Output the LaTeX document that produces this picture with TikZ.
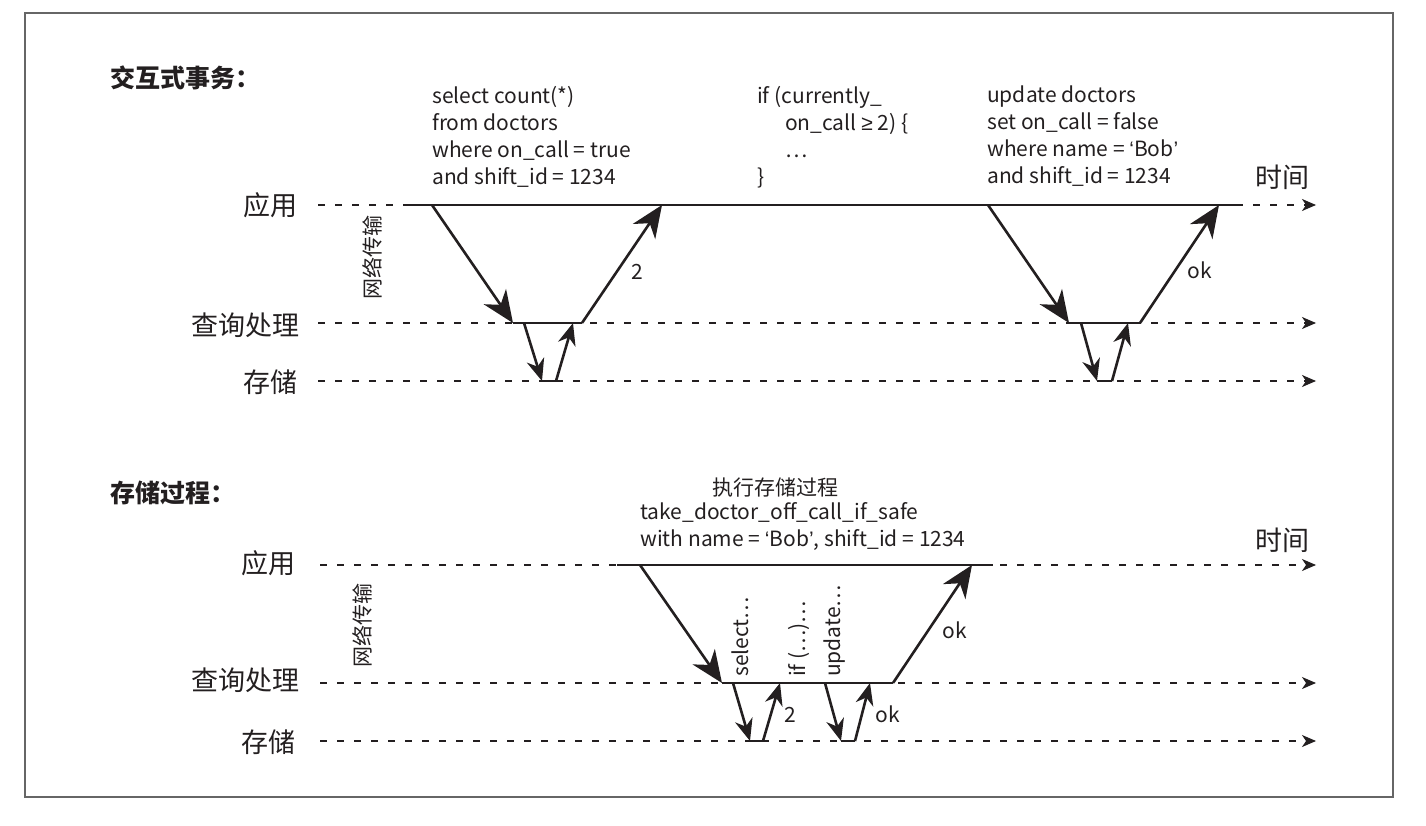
\documentclass[tikz,border=0pt]{standalone}
\usepackage{fontspec}
\setmainfont{Noto Sans CJK SC}
\newfontfamily\symfont{Liberation Sans}
\usetikzlibrary{arrows.meta}
\definecolor{ink}{HTML}{231F20}
\newcommand{\bobq}{{\symfont ‘}Bob{\symfont ’}}
\tikzset{
    lane/.style={ink, line width=1.3pt, dash pattern=on 7pt off 10pt, -{Stealth[length=14pt,width=12pt,inset=4pt]}},
    busy/.style={ink, line width=2.6pt},
    msg/.style={ink, line width=2.6pt, -{Stealth[length=32pt,width=27pt,inset=10pt]}},
    smallmsg/.style={ink, line width=2.6pt, -{Stealth[length=22pt,width=18pt,inset=7pt]}},
    rowlbl/.style={text=ink, anchor=east, inner sep=0pt, font=\fontsize{27}{27}\selectfont},
    heading/.style={text=ink, anchor=west, inner sep=0pt, font=\bfseries\fontsize{25}{25}\selectfont},
    code/.style={text=ink, anchor=north west, inner sep=0pt, align=left, font=\fontsize{21}{27}\selectfont},
    reply/.style={text=ink, inner sep=0pt, font=\fontsize{21}{21}\selectfont},
    net/.style={text=ink, rotate=90, inner sep=0pt, font=\fontsize{21}{21}\selectfont},
    callout/.style={text=ink, rotate=90, anchor=west, inner sep=0pt, font=\fontsize{21}{21}\selectfont},
}
\begin{document}
\begin{tikzpicture}[x=1pt,y=-1pt]
	\useasboundingbox (0,0) rectangle (1426,826);
	\draw[gray!80!black, line width=1.2pt] (25,13) rectangle (1393,797);
	%INTERACTIVE TRANSACTION
	\node[heading] (titleA) at (110,78) {交互式事务：};
	\node[rowlbl] (appA) at (298,205) {应用};
	\node[rowlbl] (qryA) at (300,325) {查询处理};
	\node[rowlbl] (stoA) at (298,382) {存储};
	\node[net] (netA) at (372,257) {网络传输};
	\node[rowlbl, anchor=center] (timeA) at (1282,177) {时间};
	%lanes
	\coordinate (appAs) at (318,205); \coordinate (appAe) at (1316,205);
	\coordinate (qryAs) at (318,323); \coordinate (qryAe) at (1316,323);
	\coordinate (stoAs) at (318,381); \coordinate (stoAe) at (1316,381);
	\draw[lane] (appAs) -- (appAe);
	\draw[lane] (qryAs) -- (qryAe);
	\draw[lane] (stoAs) -- (stoAe);
	%statements
	\node[code] (selA) at (432,86) {select count(*)\\from doctors\\where on\_call = true\\and shift\_id = 1234};
	\node[code] (ifA) at (757,86) {if (currently\_\\\hspace*{28pt}on\_call {\symfont ≥} 2) \{\\\hspace*{28pt}…\\\}};
	\node[code] (updA) at (987,86) {update doctors\\set on\_call = false\\where name = \bobq\\and shift\_id = 1234};
	%round trip 1
	\coordinate (a1) at (432,205); \coordinate (b1) at (513,323);
	\coordinate (c1) at (582,323); \coordinate (d1) at (662,205);
	\coordinate (e1) at (524,323); \coordinate (f1) at (542,381);
	\coordinate (g1) at (556,381); \coordinate (h1) at (573,323);
	%round trip 2
	\coordinate (a2) at (988,205); \coordinate (b2) at (1069,323);
	\coordinate (c2) at (1140,323); \coordinate (d2) at (1219,205);
	\coordinate (e2) at (1081,323); \coordinate (f2) at (1097,381);
	\coordinate (g2) at (1112,381); \coordinate (h2) at (1128,323);
	\coordinate (busyAs) at (408,205); \coordinate (busyAe) at (1240,205);
	\draw[busy] (busyAs) -- (busyAe);
	\draw[busy] (b1) -- (c1);
	\draw[busy] (f1) -- (g1);
	\draw[busy] (b2) -- (c2);
	\draw[busy] (f2) -- (g2);
	\draw[msg] (a1) -- (b1);
	\draw[msg] (c1) -- (d1);
	\draw[smallmsg] (e1) -- (f1);
	\draw[smallmsg] (g1) -- (h1);
	\draw[msg] (a2) -- (b2);
	\draw[msg] (c2) -- (d2);
	\draw[smallmsg] (e2) -- (f2);
	\draw[smallmsg] (g2) -- (h2);
	\node[reply] (twoA) at (637,272) {2};
	\node[reply] (okA) at (1200,270) {ok};
	%STORED PROCEDURE
	\node[heading] (titleB) at (110,493) {存储过程：};
	\node[rowlbl] (appB) at (296,563) {应用};
	\node[rowlbl] (qryB) at (300,680) {查询处理};
	\node[rowlbl] (stoB) at (296,742) {存储};
	\node[net] (netB) at (362,625) {网络传输};
	\node[rowlbl, anchor=center] (timeB) at (1282,540) {时间};
	\coordinate (appBs) at (320,565); \coordinate (appBe) at (1316,565);
	\coordinate (qryBs) at (320,683); \coordinate (qryBe) at (1316,683);
	\coordinate (stoBs) at (320,741); \coordinate (stoBe) at (1316,741);
	\draw[lane] (appBs) -- (appBe);
	\draw[lane] (qryBs) -- (qryBe);
	\draw[lane] (stoBs) -- (stoBe);
	\node[reply] (procB) at (775,488) {执行存储过程};
	\node[code] (callB) at (640,502) {take\_doctor\_off\_call\_if\_safe\\with name = \bobq, shift\_id = 1234};
	%call
	\coordinate (p1) at (640,565); \coordinate (q1) at (722,683);
	\coordinate (r1) at (893,683); \coordinate (s1) at (972,565);
	\coordinate (t1) at (733,683); \coordinate (u1) at (750,741);
	\coordinate (v1) at (763,741); \coordinate (w1) at (780,683);
	\coordinate (t2) at (825,683); \coordinate (u2) at (841,741);
	\coordinate (v2) at (855,741); \coordinate (w2) at (870,683);
	\coordinate (busyBs) at (617,565); \coordinate (busyBe) at (993,565);
	\draw[busy] (busyBs) -- (busyBe);
	\draw[busy] (q1) -- (r1);
	\draw[busy] (u1) -- (v1);
	\draw[busy] (u2) -- (v2);
	\draw[msg] (p1) -- (q1);
	\draw[msg] (r1) -- (s1);
	\draw[smallmsg] (t1) -- (u1);
	\draw[smallmsg] (v1) -- (w1);
	\draw[smallmsg] (t2) -- (u2);
	\draw[smallmsg] (v2) -- (w2);
	\node[callout] (selB) at (740,677) {select…};
	\node[callout] (ifB) at (799,677) {if (…)…};
	\node[callout] (updB) at (835,677) {update…};
	\node[reply] (okB) at (955,630) {ok};
	\node[reply] (twoB) at (790,715) {2};
	\node[reply] (okC) at (888,714) {ok};
\end{tikzpicture}
\end{document}
